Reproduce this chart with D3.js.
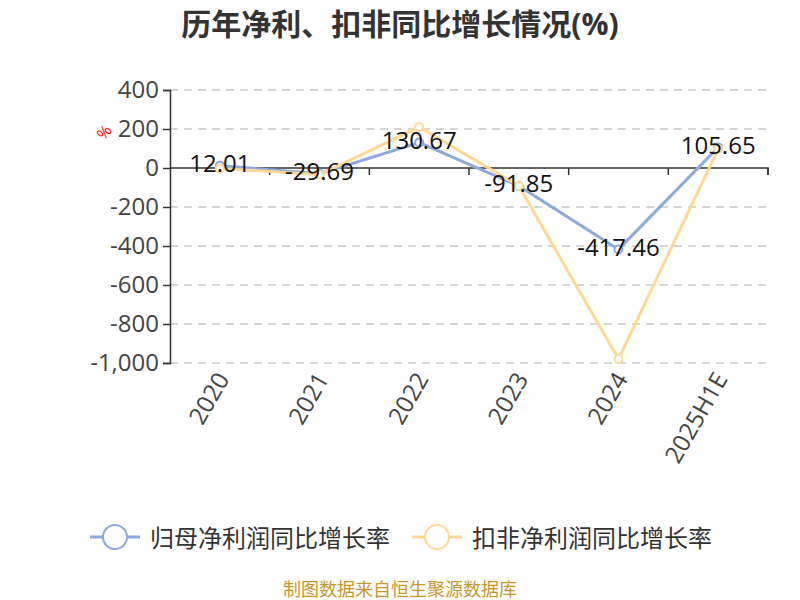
<!DOCTYPE html>
<html><head><meta charset="utf-8">
<script src="https://cdn.jsdelivr.net/npm/d3@7"></script>
<style>body{margin:0;background:#fff}text{font-family:"Open Sans","Noto Sans CJK SC",sans-serif}</style>
</head><body><svg id="c" width="800" height="600"></svg>
<script>
const categories = ["2020","2021","2022","2023","2024","2025H1E"];
const netProfitGrowth = [12.01, -29.69, 130.67, -91.85, -417.46, 105.65];
const deductedGrowth = [-2, -35, 210, -92, -980, 97];
const yTicks = [400, 200, 0, -200, -400, -600, -800, -1000];
const seriesNames = ["归母净利润同比增长率", "扣非净利润同比增长率"];
const colors = ["#8eaadb", "#fed898"];

const svg = d3.select("#c");
const x = d3.scaleBand().domain(categories).range([170, 768]);
const y = d3.scaleLinear().domain([-1000, 400]).range([363, 90]);
const fmt = d => d.toLocaleString("en-US");

svg.append("text").attr("x", 400).attr("y", 23).attr("text-anchor", "middle")
  .attr("dominant-baseline", "central")
  .attr("font-size", 30).attr("font-weight", "bold").attr("fill", "#333")
  .text("历年净利、扣非同比增长情况(%)");

// grid
svg.append("g").selectAll("line").data(yTicks.filter(d => d !== 0)).join("line")
  .attr("x1", 170).attr("x2", 768).attr("y1", d => y(d)).attr("y2", d => y(d))
  .attr("stroke", "#c8c8c8").attr("stroke-dasharray", "8,6").attr("stroke-width", 1.5);

// y axis
const ya = svg.append("g").attr("transform", "translate(170,0)")
  .call(d3.axisLeft(y).tickValues(yTicks).tickFormat(fmt).tickSize(7).tickPadding(4));
ya.select(".domain").attr("stroke", "#333").attr("stroke-width", 1.5);
ya.selectAll(".tick line").attr("stroke", "#333").attr("stroke-width", 1.5);
ya.selectAll("text").attr("font-size", 24).attr("fill", "#444")
  .attr("font-family", "'Open Sans',sans-serif");

// x axis at 0
const xa = svg.append("g").attr("transform", `translate(0,${y(0)})`)
  .call(d3.axisBottom(x).tickSize(7).tickFormat(""));
xa.select(".domain").attr("stroke", "#333").attr("stroke-width", 1.5).attr("d", `M170,0H768V7`);
xa.selectAll(".tick").remove();
svg.append("g").selectAll("line").data(d3.range(1, categories.length + 1)).join("line")
  .attr("x1", i => 170 + i * x.bandwidth()).attr("x2", i => 170 + i * x.bandwidth())
  .attr("y1", y(0)).attr("y2", y(0) + 7).attr("stroke", "#333").attr("stroke-width", 1.5);

// x labels
svg.append("g").selectAll("text").data(categories).join("text")
  .attr("transform", d => `translate(${x(d) + x.bandwidth() / 2 + 2},${374}) rotate(-60)`)
  .attr("text-anchor", "end").attr("dominant-baseline", "central")
  .attr("font-size", 24).attr("fill", "#444").text(d => d);

// % label
svg.append("text").attr("transform", "translate(104,132) rotate(-50)")
  .attr("text-anchor", "middle").attr("dominant-baseline", "central")
  .attr("font-size", 16).attr("fill", "red").text("%");

const line = d3.line().x((d, i) => x(categories[i]) + x.bandwidth() / 2).y(d => y(d));
[netProfitGrowth, deductedGrowth].forEach((vals, k) => {
  svg.append("path").datum(vals).attr("d", line).attr("fill", "none")
    .attr("stroke", colors[k]).attr("stroke-width", 3);
  svg.append("g").selectAll("circle").data(vals).join("circle")
    .attr("cx", (d, i) => x(categories[i]) + x.bandwidth() / 2).attr("cy", d => y(d))
    .attr("r", 4).attr("fill", "#fff").attr("stroke", colors[k]).attr("stroke-width", 2);
});

svg.append("g").selectAll("text").data(netProfitGrowth).join("text")
  .attr("x", (d, i) => x(categories[i]) + x.bandwidth() / 2)
  .attr("y", d => y(d) - 3).attr("text-anchor", "middle").attr("dominant-baseline", "central")
  .attr("font-size", 24).attr("fill", "#111").text(d => d.toFixed(2));

// legend
const lg = [{x: 90, t: 150}, {x: 412, t: 472}];
seriesNames.forEach((n, k) => {
  const g = svg.append("g");
  g.append("line").attr("x1", lg[k].x).attr("x2", lg[k].x + 50).attr("y1", 537).attr("y2", 537)
    .attr("stroke", colors[k]).attr("stroke-width", 3);
  g.append("circle").attr("cx", lg[k].x + 25).attr("cy", 537).attr("r", 12)
    .attr("fill", "#fff").attr("stroke", colors[k]).attr("stroke-width", 2);
  g.append("text").attr("x", lg[k].t).attr("y", 537).attr("dominant-baseline", "central")
    .attr("font-size", 24).attr("fill", "#333").text(n);
});

svg.append("text").attr("x", 400).attr("y", 589).attr("text-anchor", "middle")
  .attr("dominant-baseline", "central")
  .attr("font-size", 18).attr("fill", "#c9962c").text("制图数据来自恒生聚源数据库");
</script></body></html>
